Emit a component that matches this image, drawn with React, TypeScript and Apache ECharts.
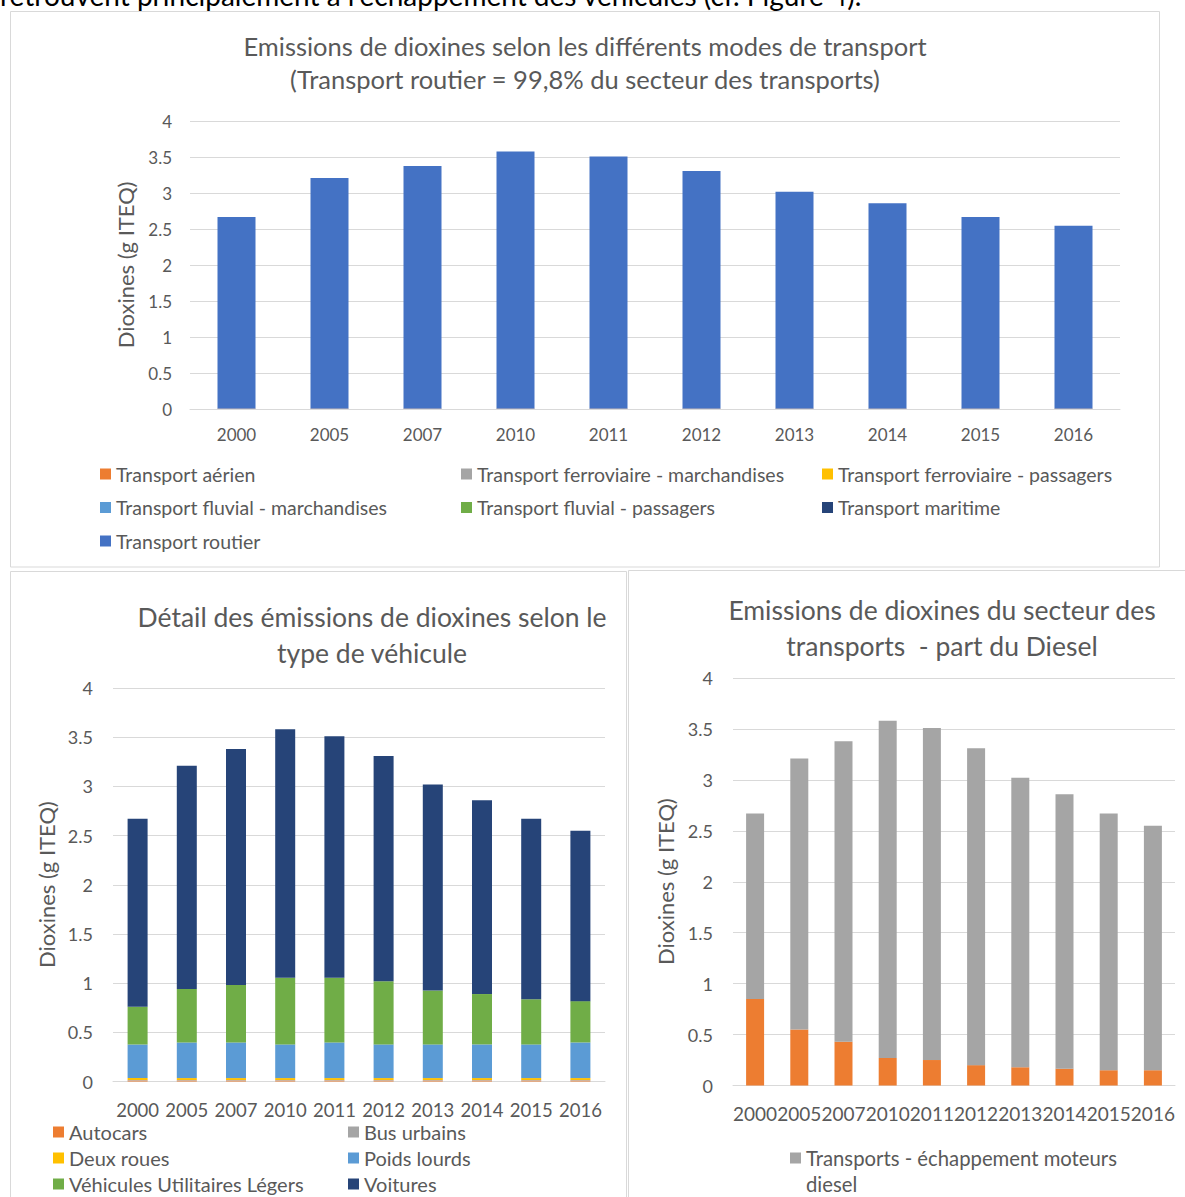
import { useEffect, useRef } from 'react';
import * as echarts from 'echarts';

// Years shared by the three charts
const years = ['2000', '2005', '2007', '2010', '2011', '2012', '2013', '2014', '2015', '2016'];

// Emissions by transport mode (g ITEQ)
const aerien = [0.003, 0.003, 0.003, 0.003, 0.003, 0.003, 0.003, 0.003, 0.003, 0.003];
const ferroMarchandises = [0.0005, 0.0005, 0.0005, 0.0005, 0.0005, 0.0005, 0.0005, 0.0005, 0.0005, 0.0005];
const ferroPassagers = [0.0005, 0.0005, 0.0005, 0.0005, 0.0005, 0.0005, 0.0005, 0.0005, 0.0005, 0.0005];
const fluvialMarchandises = [0.0005, 0.0005, 0.0005, 0.0005, 0.0005, 0.0005, 0.0005, 0.0005, 0.0005, 0.0005];
const fluvialPassagers = [0.0002, 0.0002, 0.0002, 0.0002, 0.0002, 0.0002, 0.0002, 0.0002, 0.0002, 0.0002];
const maritime = [0.002, 0.002, 0.002, 0.002, 0.002, 0.002, 0.002, 0.002, 0.002, 0.002];
const routier = [2.66, 3.2, 3.37, 3.57, 3.5, 3.3, 3.01, 2.85, 2.66, 2.54];

// Road emissions by vehicle type (g ITEQ)
const autocars = [0.01, 0.01, 0.01, 0.01, 0.01, 0.01, 0.01, 0.01, 0.01, 0.01];
const busUrbains = [0.005, 0.005, 0.005, 0.005, 0.005, 0.005, 0.005, 0.005, 0.005, 0.005];
const deuxRoues = [0.02, 0.02, 0.02, 0.02, 0.02, 0.02, 0.02, 0.02, 0.02, 0.02];
const poidsLourds = [0.342, 0.362, 0.362, 0.342, 0.362, 0.342, 0.342, 0.342, 0.342, 0.362];
const vul = [0.383, 0.543, 0.583, 0.678, 0.658, 0.643, 0.549, 0.512, 0.458, 0.42];
const voitures = [1.91, 2.27, 2.4, 2.525, 2.455, 2.29, 2.094, 1.971, 1.835, 1.733];

// Transport sector split: diesel exhaust vs the rest (g ITEQ)
const essence = [0.85, 0.55, 0.43, 0.27, 0.25, 0.2, 0.18, 0.165, 0.15, 0.15];
const diesel = [1.82, 2.66, 2.95, 3.31, 3.26, 3.11, 2.84, 2.695, 2.52, 2.4];

const FONT = 'Lato, "Open Sans", sans-serif';
const TEXT = '#595959';
const LINE = '#d9d9d9';

const COLORS = {
  orange: '#ED7D31',
  grey: '#A5A5A5',
  yellow: '#FFC000',
  lightBlue: '#5B9BD5',
  green: '#70AD47',
  navy: '#264478',
  blue: '#4472C4',
};

function categoryAxis(gridIndex: number, fontSize: number, margin: number) {
  return {
    type: 'category',
    gridIndex,
    data: years,
    axisLine: { show: true, lineStyle: { color: LINE, width: 1 } },
    axisTick: { show: false },
    axisLabel: { interval: 0, color: TEXT, fontSize, fontFamily: FONT, margin },
  };
}

function valueAxis(gridIndex: number, fontSize: number, margin: number, nameGap: number, nameSize: number) {
  return {
    type: 'value',
    gridIndex,
    min: 0,
    max: 4,
    interval: 0.5,
    name: 'Dioxines (g ITEQ)',
    nameLocation: 'middle',
    nameRotate: 90,
    nameGap,
    nameTextStyle: { color: TEXT, fontSize: nameSize, fontFamily: FONT },
    axisLine: { show: false },
    axisTick: { show: false },
    axisLabel: { color: TEXT, fontSize, fontFamily: FONT, margin },
    splitLine: { show: true, lineStyle: { color: LINE, width: 1 } },
  };
}

function bar(name: string, data: number[], color: string, axis: number, stack: string, barWidth: number) {
  return {
    type: 'bar',
    name,
    data,
    stack,
    xAxisIndex: axis,
    yAxisIndex: axis,
    barWidth,
    itemStyle: { color },
  };
}

function legend(left: number, top: number, itemGap: number, fontSize: number, data: string[], extra: object = {}) {
  return {
    left,
    top,
    orient: 'vertical',
    itemGap,
    itemWidth: 11,
    itemHeight: 11,
    icon: 'rect',
    padding: 0,
    selectedMode: false,
    textStyle: { color: TEXT, fontSize, fontFamily: FONT, lineHeight: 20 },
    data,
    ...extra,
  };
}

function titleAt(text: string, x: number, top: number, fontSize: number, lineHeight: number) {
  return {
    text,
    left: x,
    top,
    textAlign: 'center',
    padding: 0,
    textStyle: { color: TEXT, fontSize, fontWeight: 'normal', fontFamily: FONT, lineHeight },
  };
}

export default function App() {
  const ref = useRef<HTMLDivElement>(null);

  useEffect(() => {
    if (!ref.current) return;
    const chart = echarts.init(ref.current, undefined, { renderer: 'svg' });

    chart.setOption({
      animation: false,
      backgroundColor: '#ffffff',
      title: [
        titleAt(
          'Emissions de dioxines selon les différents modes de transport\n(Transport routier = 99,8% du secteur des transports)',
          585, 29.5, 25.5, 33
        ),
        titleAt('Détail des émissions de dioxines selon le\ntype de véhicule', 372, 599, 26.5, 36),
        titleAt('Emissions de dioxines du secteur des\ntransports  - part du Diesel', 942, 592, 26.5, 36),
      ],
      grid: [
        { left: 190, top: 121, width: 930, height: 288 },
        { left: 113, top: 688, width: 492, height: 393.5 },
        { left: 733, top: 678, width: 442, height: 407.5 },
      ],
      xAxis: [categoryAxis(0, 17, 17), categoryAxis(1, 18.5, 19), categoryAxis(2, 19, 18)],
      yAxis: [valueAxis(0, 17, 18, 54, 22), valueAxis(1, 18, 20, 56, 22), valueAxis(2, 18, 20, 57, 22)],
      legend: [
        legend(100, 464, 13.5, 19.5, ['Transport aérien', 'Transport fluvial - marchandises', 'Transport routier']),
        legend(461, 464, 13.5, 19.5, ['Transport ferroviaire - marchandises', 'Transport fluvial - passagers']),
        legend(822, 464, 13.5, 19.5, ['Transport ferroviaire - passagers', 'Transport maritime']),
        legend(53, 1122, 6, 20, ['Autocars', 'Deux roues', 'Véhicules Utilitaires Légers']),
        legend(348, 1122, 6, 20, ['Bus urbains', 'Poids lourds', 'Voitures']),
        legend(790, 1148, 6, 20.3, ['Transports - échappement moteurs diesel'], {
          formatter: () => 'Transports - échappement moteurs',
        }),
      ],
      series: [
        bar('Transport aérien', aerien, COLORS.orange, 0, 'modes', 38),
        bar('Transport ferroviaire - marchandises', ferroMarchandises, COLORS.grey, 0, 'modes', 38),
        bar('Transport ferroviaire - passagers', ferroPassagers, COLORS.yellow, 0, 'modes', 38),
        bar('Transport fluvial - marchandises', fluvialMarchandises, COLORS.lightBlue, 0, 'modes', 38),
        bar('Transport fluvial - passagers', fluvialPassagers, COLORS.green, 0, 'modes', 38),
        bar('Transport maritime', maritime, COLORS.navy, 0, 'modes', 38),
        bar('Transport routier', routier, COLORS.blue, 0, 'modes', 38),

        bar('Autocars', autocars, COLORS.orange, 1, 'vehicules', 20),
        bar('Bus urbains', busUrbains, COLORS.grey, 1, 'vehicules', 20),
        bar('Deux roues', deuxRoues, COLORS.yellow, 1, 'vehicules', 20),
        bar('Poids lourds', poidsLourds, COLORS.lightBlue, 1, 'vehicules', 20),
        bar('Véhicules Utilitaires Légers', vul, COLORS.green, 1, 'vehicules', 20),
        bar('Voitures', voitures, COLORS.navy, 1, 'vehicules', 20),

        bar('Transports - échappement moteurs essence', essence, COLORS.orange, 2, 'carburant', 18),
        bar('Transports - échappement moteurs diesel', diesel, COLORS.grey, 2, 'carburant', 18),
      ],
      graphic: [
        {
          type: 'text',
          x: 0,
          y: -5,
          z: 10,
          style: {
            text: "retrouvent principalement à l'échappement des véhicules (cf. Figure 4).",
            font: `28px ${FONT}`,
            fill: '#000000',
            verticalAlign: 'middle',
          },
        },
        {
          type: 'rect',
          z: -1,
          shape: { x: 10.5, y: 11.5, width: 1149, height: 555.5 },
          style: { fill: 'none', stroke: LINE, lineWidth: 1 },
        },
        {
          type: 'rect',
          z: -1,
          shape: { x: 10.5, y: 571.5, width: 616, height: 650 },
          style: { fill: 'none', stroke: LINE, lineWidth: 1 },
        },
        {
          type: 'rect',
          z: -1,
          shape: { x: 628.5, y: 570.5, width: 600, height: 650 },
          style: { fill: 'none', stroke: LINE, lineWidth: 1 },
        },
        {
          type: 'text',
          x: 806,
          y: 1184,
          style: {
            text: 'diesel',
            font: `20.3px ${FONT}`,
            fill: TEXT,
            verticalAlign: 'middle',
          },
        },
      ],
    });

    return () => chart.dispose();
  }, []);

  return (
    <div
      ref={ref}
      style={{ position: 'absolute', left: 0, top: 0, width: 1185, height: 1197, background: '#ffffff' }}
    />
  );
}
